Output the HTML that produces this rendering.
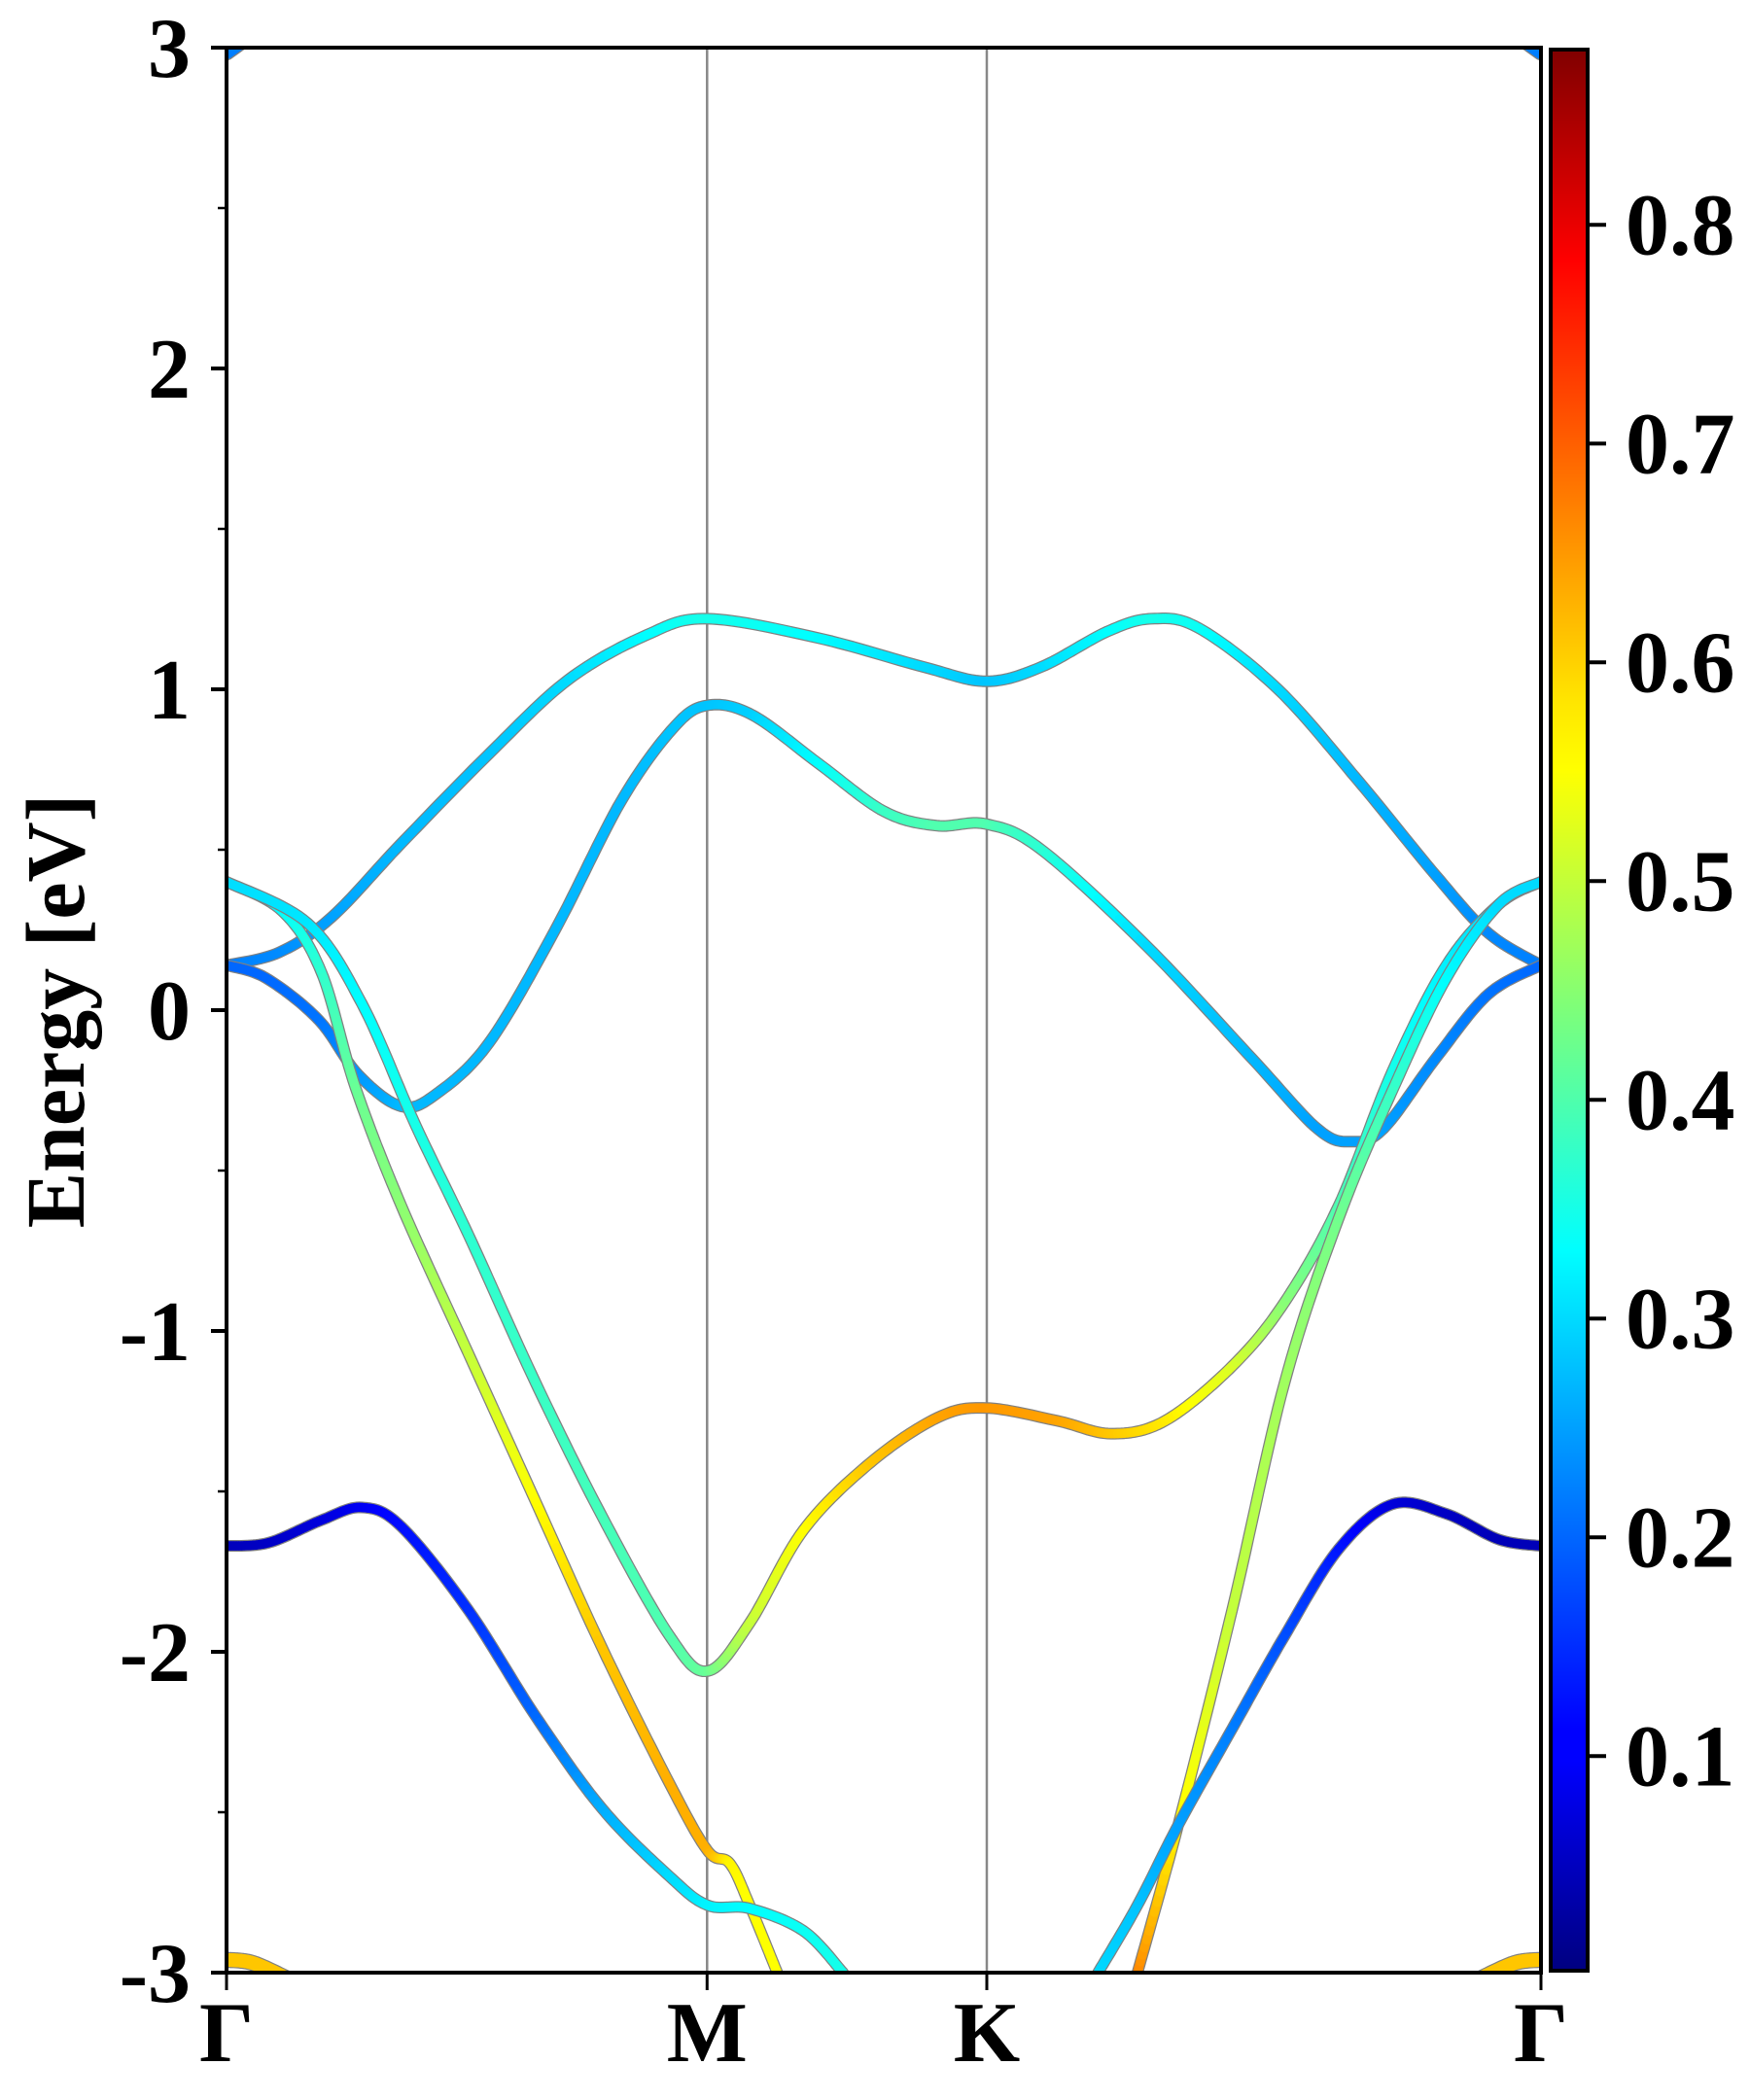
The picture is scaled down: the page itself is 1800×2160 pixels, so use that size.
<!DOCTYPE html>
<html><head><meta charset="utf-8"><style>
html,body{margin:0;padding:0;background:#fff;}
svg{display:block;}
text{font-family:"Liberation Serif",serif;font-weight:bold;fill:#000;}
</style></head><body>
<svg id="chart" width="1800" height="2160" viewBox="0 0 1800 2160" xmlns="http://www.w3.org/2000/svg">
<defs>
<clipPath id="plotclip"><rect x="233" y="49" width="1352" height="1980"/></clipPath>
<linearGradient id="jet" x1="0" y1="1" x2="0" y2="0">
<stop offset="0" stop-color="#000080"/><stop offset="0.11" stop-color="#0000ff"/>
<stop offset="0.125" stop-color="#0000ff"/><stop offset="0.34" stop-color="#00dbff"/>
<stop offset="0.375" stop-color="#00ffff" /><stop offset="0.5" stop-color="#7dff7a"/>
<stop offset="0.625" stop-color="#ffff00"/><stop offset="0.66" stop-color="#ffe600"/>
<stop offset="0.89" stop-color="#ff0000"/><stop offset="1" stop-color="#800000"/>
</linearGradient>
</defs>
<g id="plot"></g>
<rect x="1595" y="51" width="38" height="1976" fill="url(#jet)" stroke="#000" stroke-width="4"/>
<g id="axes"></g>
<text x="0" y="0" font-size="86" text-anchor="middle" transform="translate(86,1040) rotate(-90)">Energy [eV]</text>
</svg>
<script>
const kLabels = ["Γ","M","K","Γ"];
const kPositions = [0, 0.3656, 0.5784, 1];
const yTicks = [3,2,1,0,-1,-2,-3];
const cbTicks = [0.1,0.2,0.3,0.4,0.5,0.6,0.7,0.8];
const cbMin = 0.001, cbMax = 0.881;

const bandA_k=[0,0.04,0.08,0.133,0.2,0.26,0.32,0.366,0.45,0.53,0.578,0.62,0.67,0.704,0.74,0.8,0.86,0.92,0.96,1];
const bandA_E=[0.14,0.18,0.29,0.52,0.80,1.03,1.17,1.22,1.16,1.07,1.025,1.07,1.18,1.22,1.19,1.0,0.72,0.42,0.24,0.14];
const bandA_w=[.22,.23,.25,.27,.28,.3,.33,.35,.33,.3,.28,.3,.33,.35,.34,.3,.27,.25,.23,.22];

const bandB_k=[0,0.03,0.07,0.10,0.133,0.16,0.2,0.25,0.3,0.34,0.366,0.4,0.45,0.5,0.54,0.578,0.62,0.7,0.78,0.83,0.856,0.88,0.92,0.96,1];
const bandB_E=[0.14,0.10,-0.03,-0.20,-0.30,-0.26,-0.10,0.25,0.65,0.88,0.95,0.92,0.77,0.62,0.575,0.58,0.50,0.2,-0.15,-0.37,-0.41,-0.37,-0.15,0.05,0.14];
const bandB_w=[.2,.2,.21,.24,.27,.27,.27,.27,.27,.28,.28,.29,.33,.38,.4,.4,.37,.3,.27,.25,.25,.25,.23,.21,.2];

const bandC1_k=[0,0.042,0.072,0.098,0.133,0.184,0.235,0.286,0.337,0.366,0.383,0.398,0.419];
const bandC1_E=[0.40,0.31,0.12,-0.24,-0.61,-1.07,-1.53,-1.99,-2.41,-2.62,-2.66,-2.79,-3.0];
const bandC1_w=[.3,.33,.37,.42,.45,.5,.55,.6,.62,.62,.56,.55,.55];

const bandC2_k=[0,0.062,0.103,0.144,0.184,0.235,0.286,0.337,0.366,0.398,0.439,0.49,0.541,0.578,0.632,0.673,0.714,0.765,0.805,0.846,0.887,0.928,0.968,1];
const bandC2_E=[0.40,0.27,0.02,-0.36,-0.70,-1.16,-1.58,-1.95,-2.06,-1.91,-1.62,-1.41,-1.27,-1.24,-1.28,-1.32,-1.28,-1.11,-0.91,-0.61,-0.19,0.14,0.33,0.40];
const bandC2_w=[.3,.31,.33,.35,.37,.38,.39,.4,.42,.5,.55,.6,.63,.64,.63,.6,.57,.52,.45,.4,.35,.32,.3,.3];

const bandD_k=[0.693,0.724,0.765,0.805,0.846,0.887,0.928,0.968,1];
const bandD_E=[-3.0,-2.54,-1.87,-1.16,-0.65,-0.25,0.10,0.33,0.40];
const bandD_w=[.66,.56,.5,.47,.43,.38,.33,.3,.3];

const bandE1_k=[0,0.032,0.072,0.103,0.133,0.184,0.235,0.286,0.337,0.366,0.398,0.439,0.469];
const bandE1_E=[-1.67,-1.66,-1.59,-1.55,-1.61,-1.87,-2.20,-2.49,-2.70,-2.79,-2.80,-2.87,-3.0];
const bandE1_w=[.05,.06,.08,.1,.12,.15,.2,.26,.3,.32,.33,.34,.35];

const bandE2_k=[0.663,0.693,0.724,0.765,0.805,0.846,0.887,0.928,0.968,1];
const bandE2_E=[-3.0,-2.79,-2.54,-2.24,-1.95,-1.68,-1.54,-1.57,-1.65,-1.67];
const bandE2_w=[.3,.28,.25,.22,.18,.13,.08,.06,.05,.05];

const cornerTL_k=[0,0.012], cornerTL_E=[2.985,3.02], cornerTL_w=[.22,.22];
const cornerTR_k=[1,0.988], cornerTR_E=[2.985,3.02], cornerTR_w=[.22,.22];
const cornerBL_k=[0,0.02,0.047], cornerBL_E=[-2.96,-2.97,-3.02], cornerBL_w=[.6,.6,.6];
const cornerBR_k=[1,0.98,0.953], cornerBR_E=[-2.96,-2.97,-3.02], cornerBR_w=[.6,.6,.6];

const X0=233,X1=1585,Y0=49,Y1=2029;
const xs=k=>X0+k*(X1-X0);
const ys=e=>Y0+(3-e)/6*(Y1-Y0);
const cbY=v=>Y1-(v-cbMin)/(cbMax-cbMin)*(Y1-Y0);
const NS="http://www.w3.org/2000/svg";
function mk(tag,attrs,parent){const el=document.createElementNS(NS,tag);for(const a in attrs)el.setAttribute(a,attrs[a]);parent.appendChild(el);return el;}

function jet(v){
  const t=(v-cbMin)/(cbMax-cbMin);
  const cl=x=>Math.max(0,Math.min(1,x));
  const r=cl(Math.min(4*t-1.5,-4*t+4.5)),g=cl(Math.min(4*t-0.5,-4*t+3.5)),b=cl(Math.min(4*t+0.5,-4*t+2.5));
  return `rgb(${Math.round(r*255)},${Math.round(g*255)},${Math.round(b*255)})`;
}

const plot=document.getElementById('plot');
const axes=document.getElementById('axes');
const clipG=mk('g',{'clip-path':'url(#plotclip)'},plot);



[1,2].forEach(i=>{
  const l=mk('line',{x1:xs(kPositions[i]),x2:xs(kPositions[i]),y1:Y0,y2:Y1,stroke:'#888',"stroke-width":2.5},clipG);
  
  
});

function sample(ks,es,ws){
  const P=ks.map((k,i)=>[xs(k),ys(es[i]),ws[i]]);
  const out=[];const n=P.length;
  if(n<3){return P;}
  for(let i=0;i<n-1;i++){
    const p0=P[Math.max(0,i-1)],p1=P[i],p2=P[i+1],p3=P[Math.min(n-1,i+2)];
    for(let s=0;s<16;s++){const t=s/16,t2=t*t,t3=t2*t;
      const f=(a,b,c,d)=>0.5*((2*b)+(-a+c)*t+(2*a-5*b+4*c-d)*t2+(-a+3*b-3*c+d)*t3);
      out.push([f(p0[0],p1[0],p2[0],p3[0]),f(p0[1],p1[1],p2[1],p3[1]),p1[2]+(p2[2]-p1[2])*t]);}
  }
  out.push(P[n-1]);return out;
}

const bands=[
 ['band-a',bandA_k,bandA_E,bandA_w],['band-b',bandB_k,bandB_E,bandB_w],
 ['band-c1',bandC1_k,bandC1_E,bandC1_w],['band-c2',bandC2_k,bandC2_E,bandC2_w],
 ['band-d',bandD_k,bandD_E,bandD_w],['band-e-left',bandE1_k,bandE1_E,bandE1_w],
 ['band-e-right',bandE2_k,bandE2_E,bandE2_w],
 ['band-corner-top-left',cornerTL_k,cornerTL_E,cornerTL_w],['band-corner-top-right',cornerTR_k,cornerTR_E,cornerTR_w],
 ['band-corner-bottom-left',cornerBL_k,cornerBL_E,cornerBL_w],['band-corner-bottom-right',cornerBR_k,cornerBR_E,cornerBR_w]
];
bands.forEach(([name,k,e,w])=>{
  const pts=sample(k,e,w);
  const g=mk('g',{},clipG);
  
  
  const isCorner=name.indexOf('corner')>=0;
  const lw=isCorner?14:9.5;
  mk('polyline',{points:pts.map(p=>p[0].toFixed(1)+','+p[1].toFixed(1)).join(' '),fill:'none',stroke:'#808080','stroke-width':lw+2.5,'stroke-linecap':'round','stroke-linejoin':'round'},g);
  for(let i=0;i<pts.length-1;i++){
    mk('line',{x1:pts[i][0],y1:pts[i][1],x2:pts[i+1][0],y2:pts[i+1][1],stroke:jet((pts[i][2]+pts[i+1][2])/2),'stroke-width':lw,'stroke-linecap':'round'},g);
  }
});

const fr=mk('rect',{x:X0,y:Y0,width:X1-X0,height:Y1-Y0,fill:'none',stroke:'#000','stroke-width':4},axes);



yTicks.forEach(v=>{
  const y=ys(v);
  const t=mk('line',{x1:X0-16,x2:X0,y1:y,y2:y,stroke:'#000','stroke-width':4},axes);
  
  
  const tx=mk('text',{x:196,y:y+30,'font-size':88,'text-anchor':'end'},axes);
  
  
  tx.textContent=v;
  if(v>-3){const m=ys(v-0.5);
    const mt=mk('line',{x1:X0-9,x2:X0,y1:m,y2:m,stroke:'#000','stroke-width':2.5},axes);
    
    }
});
kPositions.forEach((k,i)=>{
  const x=xs(k);
  const t=mk('line',{x1:x,x2:x,y1:Y1,y2:Y1+18,stroke:'#000','stroke-width':3},axes);
  
  
  const tx=mk('text',{x:x,y:2120,'font-size':88,'text-anchor':'middle'},axes);
  
  
  tx.textContent=kLabels[i];
});
cbTicks.forEach(v=>{
  const y=cbY(v);
  const t=mk('line',{x1:1635,x2:1652,y1:y,y2:y,stroke:'#000','stroke-width':4},axes);
  
  
  const tx=mk('text',{x:1672,y:y+30,'font-size':90},axes);
  
  
  tx.textContent=v.toFixed(1);
});
</script>
</body></html>
